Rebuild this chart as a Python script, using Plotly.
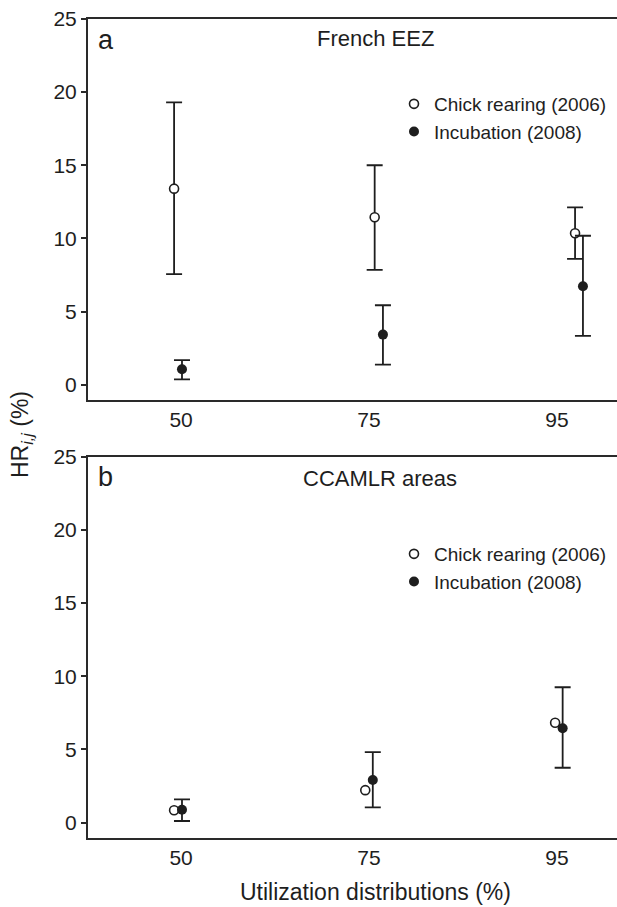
import plotly.graph_objects as go
from plotly.subplots import make_subplots

# utilization distribution levels (%) and their slot on the x axis
ud_levels = ["50", "75", "95"]
ud_slot = [1, 2, 3]

# panel a: French EEZ
a_chick_dx = [-0.037, 0.03, 0.096]
a_chick = [13.4, 11.45, 10.35]
a_chick_hi = [19.3, 15.0, 12.12]
a_chick_lo = [7.55, 7.85, 8.6]

a_incub_dx = [0.005, 0.074, 0.138]
a_incub = [1.05, 3.42, 6.73]
a_incub_hi = [1.68, 5.43, 10.18]
a_incub_lo = [0.36, 1.37, 3.33]

# panel b: CCAMLR areas
b_chick_dx = [-0.037, -0.02, -0.01]
b_chick = [0.85, 2.22, 6.82]

b_incub_dx = [0.005, 0.02, 0.03]
b_incub = [0.88, 2.91, 6.45]
b_incub_hi = [1.59, 4.82, 9.25]
b_incub_lo = [0.11, 1.04, 3.75]

FONT = "Liberation Sans, Arial, Helvetica, sans-serif"
INK = "#1e1e1e"
# the original panel runs off the right edge, so the canvas is a bit wider than the window
W, H = 645, 907
L, T, B = 88, 19, 69


def px_x(p):
    return (p - L) / (W - L)


def px_y(p):
    return (H - B - p) / (H - T - B)


def xs(dx):
    return [s + d for s, d in zip(ud_slot, dx)]


def err(y, hi, lo):
    return dict(type="data", symmetric=False,
                array=[h - v for h, v in zip(hi, y)],
                arrayminus=[v - l for v, l in zip(y, lo)],
                color=INK, thickness=1.8, width=8)


open_marker = dict(symbol="circle", size=9, color="white", line=dict(color=INK, width=1.6))
full_marker = dict(symbol="circle", size=10, color=INK, line=dict(color=INK, width=0))

fig = make_subplots(rows=2, cols=1, vertical_spacing=0.07)

fig.add_trace(go.Scatter(x=xs(a_chick_dx), y=a_chick, mode="markers", name="Chick rearing (2006)",
                         marker=open_marker, error_y=err(a_chick, a_chick_hi, a_chick_lo),
                         legend="legend"), row=1, col=1)
fig.add_trace(go.Scatter(x=xs(a_incub_dx), y=a_incub, mode="markers", name="Incubation (2008)",
                         marker=full_marker, error_y=err(a_incub, a_incub_hi, a_incub_lo),
                         legend="legend"), row=1, col=1)
fig.add_trace(go.Scatter(x=xs(b_chick_dx), y=b_chick, mode="markers", name="Chick rearing (2006)",
                         marker=open_marker, legend="legend2"), row=2, col=1)
fig.add_trace(go.Scatter(x=xs(b_incub_dx), y=b_incub, mode="markers", name="Incubation (2008)",
                         marker=full_marker, error_y=err(b_incub, b_incub_hi, b_incub_lo),
                         legend="legend2"), row=2, col=1)

# slot 1 sits at x=181px, slot spacing is 188px
x_hi = 3 + (W - 557) / 188
xax = dict(range=[0.505, x_hi], tickvals=ud_slot, ticktext=ud_levels, showline=True, mirror=True,
           linecolor="#2a2a2a", linewidth=2, ticks="", showgrid=False, zeroline=False,
           tickfont=dict(family=FONT, size=21, color=INK))
yax = dict(range=[-1.05, 25], tickvals=[0, 5, 10, 15, 20, 25], showline=True, mirror=False,
           linecolor="#2a2a2a", linewidth=2, ticks="outside", ticklen=5, tickwidth=1.5,
           tickcolor="#2a2a2a", showgrid=False, zeroline=False,
           tickfont=dict(family=FONT, size=21, color=INK))

fig.update_layout(
    width=W, height=H, plot_bgcolor="white", paper_bgcolor="white",
    margin=dict(l=L, r=0, t=T, b=B),
    xaxis=dict(xax, domain=[0, 1]), xaxis2=dict(xax, domain=[0, 1]),
    yaxis=dict(yax, domain=[px_y(400), 1]), yaxis2=dict(yax, domain=[0, px_y(456.7)]),
    legend=dict(x=px_x(394), y=px_y(85), xanchor="left", yanchor="top",
                font=dict(family=FONT, size=19, color=INK), bgcolor="rgba(0,0,0,0)",
                itemwidth=30, tracegroupgap=0),
    legend2=dict(x=px_x(394), y=px_y(535), xanchor="left", yanchor="top",
                 font=dict(family=FONT, size=19, color=INK), bgcolor="rgba(0,0,0,0)",
                 itemwidth=30, tracegroupgap=0),
    showlegend=True,
)

labels = [
    ("a", 106, 40, 27),
    ("b", 105, 477, 27),
    ("French EEZ", 375, 38, 22),
    ("CCAMLR areas", 380, 478, 22),
    ("Utilization distributions (%)", 375, 892, 23),
]
for text, x, y, size in labels:
    fig.add_annotation(text=text, x=px_x(x), y=px_y(y), xref="paper", yref="paper",
                       showarrow=False, xanchor="center", yanchor="middle",
                       font=dict(family=FONT, size=size, color=INK))

fig.add_annotation(text="HR<sub><i>i,j</i></sub> (%)", x=px_x(21), y=px_y(435), xref="paper", yref="paper",
                   showarrow=False, textangle=-90, xanchor="center", yanchor="middle",
                   font=dict(family=FONT, size=23, color=INK))

fig.write_html("out.html", config={"displayModeBar": False},
               post_script="document.body.style.margin='0';document.body.style.overflow='hidden';")
